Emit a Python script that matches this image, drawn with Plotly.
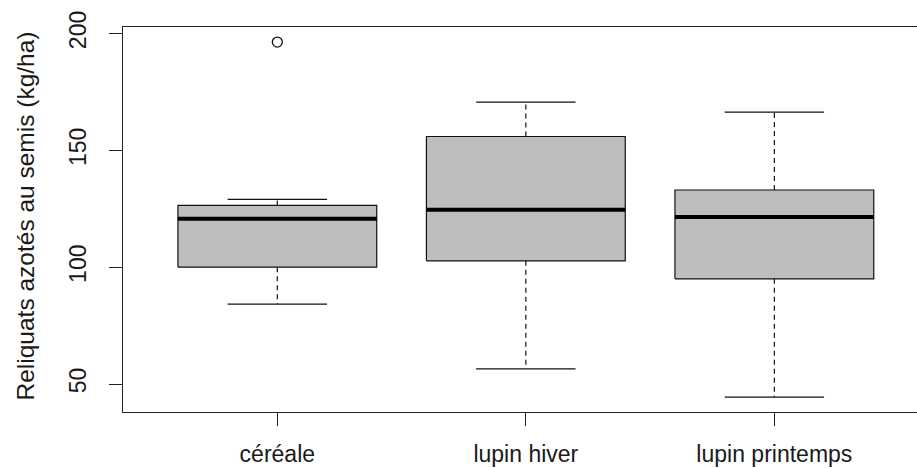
import plotly.graph_objects as go

categories = ["céréale", "lupin hiver", "lupin printemps"]
lower_whisker = [84.2, 56.5, 44.4]
q1 = [100.0, 102.7, 95.0]
median = [120.7, 124.6, 121.4]
q3 = [126.4, 155.9, 133.0]
upper_whisker = [129.0, 170.6, 166.3]
outlier_group = [0]
outlier_value = [196.3]
y_ticks = [50, 100, 150, 200]
y_title = "Reliquats azotés au semis (kg/ha)"

FONT = "Liberation Sans, Arial, sans-serif"
TEXT_COLOR = "#1a1a1a"
BOX_HALF = 0.4
CAP_HALF = 0.2

fig = go.Figure()
positions = [i + 1 for i in range(len(categories))]

for x, a, b in zip(positions, q1, q3):
    fig.add_trace(go.Scatter(
        x=[x - BOX_HALF, x + BOX_HALF, x + BOX_HALF, x - BOX_HALF, x - BOX_HALF],
        y=[a, a, b, b, a], mode="lines", fill="toself", fillcolor="#BEBEBE",
        line=dict(color="#111111", width=1.2), hoverinfo="skip"))

# dashed whiskers
wx, wy = [], []
for x, lo, a, b, hi in zip(positions, lower_whisker, q1, q3, upper_whisker):
    wx += [x, x, None, x, x, None]
    wy += [b, hi, None, a, lo, None]
fig.add_trace(go.Scatter(x=wx, y=wy, mode="lines",
                         line=dict(color="#111111", width=1.2, dash="5px,4px"), hoverinfo="skip"))

# caps
cx, cy = [], []
for x, lo, hi in zip(positions, lower_whisker, upper_whisker):
    cx += [x - CAP_HALF, x + CAP_HALF, None, x - CAP_HALF, x + CAP_HALF, None]
    cy += [hi, hi, None, lo, lo, None]
fig.add_trace(go.Scatter(x=cx, y=cy, mode="lines",
                         line=dict(color="#111111", width=1.2), hoverinfo="skip"))

# medians
mx, my = [], []
for x, m in zip(positions, median):
    mx += [x - BOX_HALF, x + BOX_HALF, None]
    my += [m, m, None]
fig.add_trace(go.Scatter(x=mx, y=my, mode="lines",
                         line=dict(color="#000000", width=4), hoverinfo="skip"))

# outliers
fig.add_trace(go.Scatter(x=[positions[g] for g in outlier_group], y=outlier_value,
                         mode="markers",
                         marker=dict(symbol="circle-open", size=10, color="#111111",
                                     line=dict(width=1.3)), hoverinfo="skip"))

fig.update_layout(
    width=917, height=468,
    margin=dict(l=123, r=0, t=27, b=56),
    paper_bgcolor="white", plot_bgcolor="white",
    showlegend=False, hovermode=False,
    font=dict(family=FONT, size=23, color=TEXT_COLOR),
)
fig.update_xaxes(
    range=[0.379, 3.574], tickmode="array", tickvals=positions, ticktext=categories,
    automargin=False,
    showgrid=False, zeroline=False, showline=True, mirror=True,
    linecolor="#222222", linewidth=1.2, ticks="outside", ticklen=13,
    tickcolor="#222222", tickwidth=1.2, ticklabelstandoff=8,
    tickfont=dict(family=FONT, size=23, color=TEXT_COLOR),
)
fig.update_yaxes(
    range=[38.02, 202.74], tickmode="array", tickvals=y_ticks,
    ticktext=[str(v) for v in y_ticks], automargin=False,
    showgrid=False, zeroline=False, showline=True, mirror=False,
    linecolor="#222222", linewidth=1.2, ticks="outside", ticklen=13,
    tickcolor="#222222", tickwidth=1.2, tickangle=-90, ticklabelstandoff=14,
    tickfont=dict(family=FONT, size=23, color=TEXT_COLOR),
)
fig.add_annotation(
    text=y_title, textangle=-90, xref="paper", yref="paper", x=0, y=0.5,
    xanchor="center", yanchor="middle", xshift=-98, yshift=3, showarrow=False,
    font=dict(family=FONT, size=24.5, color=TEXT_COLOR),
)

fig.write_html("out.html")
